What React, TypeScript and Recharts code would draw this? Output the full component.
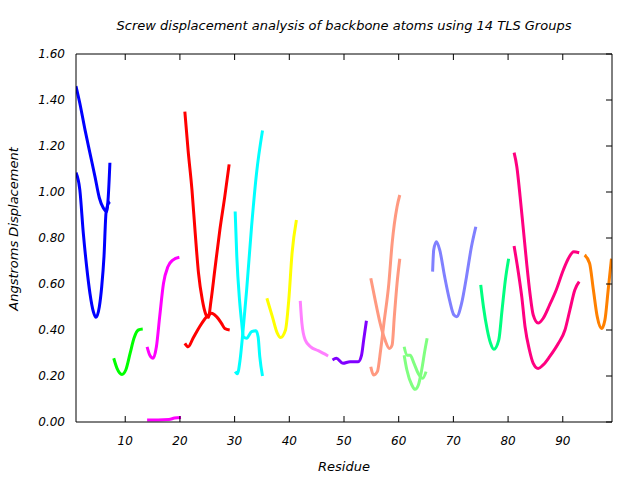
import React from 'react';
import { LineChart, Line, XAxis, YAxis } from 'recharts';

const xTicks = [10, 20, 30, 40, 50, 60, 70, 80, 90];
const yTicks = [0, 0.2, 0.4, 0.6, 0.8, 1.0, 1.2, 1.4, 1.6];

// TLS group 1 (blue)
const blueA = [
  { x: 1, y: 1.46 }, { x: 1.7, y: 1.386 }, { x: 2.65, y: 1.27 }, { x: 3.56, y: 1.168 },
  { x: 4.47, y: 1.067 }, { x: 5.26, y: 0.975 }, { x: 6.0, y: 0.93 }, { x: 6.6, y: 0.915 },
  { x: 6.9, y: 0.98 }, { x: 7.2, y: 1.127 },
];
const blueB = [
  { x: 1, y: 1.084 }, { x: 1.7, y: 1.009 }, { x: 2.34, y: 0.82 }, { x: 2.95, y: 0.675 },
  { x: 3.56, y: 0.558 }, { x: 4.17, y: 0.48 }, { x: 4.66, y: 0.455 }, { x: 5.26, y: 0.5 },
  { x: 5.7, y: 0.588 }, { x: 6.12, y: 0.72 }, { x: 6.48, y: 0.907 }, { x: 6.8, y: 0.945 },
  { x: 7.2, y: 0.958 },
];
// group 2 (green)
const greenA = [
  { x: 7.9, y: 0.277 }, { x: 8.5, y: 0.233 }, { x: 9.4, y: 0.207 }, { x: 10.1, y: 0.226 },
  { x: 10.9, y: 0.299 }, { x: 11.6, y: 0.364 }, { x: 12.4, y: 0.4 }, { x: 13.2, y: 0.404 },
];
// group 3 (magenta)
const magentaA = [
  { x: 14.0, y: 0.327 }, { x: 14.5, y: 0.29 }, { x: 15.1, y: 0.277 }, { x: 15.7, y: 0.327 },
  { x: 16.3, y: 0.458 }, { x: 17.0, y: 0.603 }, { x: 17.8, y: 0.675 }, { x: 18.7, y: 0.704 },
  { x: 19.9, y: 0.716 },
];
const magentaB = [
  { x: 14.0, y: 0.009 }, { x: 16.0, y: 0.009 }, { x: 18.0, y: 0.011 }, { x: 19.0, y: 0.017 },
  { x: 20.2, y: 0.02 },
];
// group 4 (red)
const redA = [
  { x: 20.9, y: 1.349 }, { x: 21.5, y: 1.18 }, { x: 22.2, y: 1.01 }, { x: 22.8, y: 0.82 },
  { x: 23.4, y: 0.647 }, { x: 24.1, y: 0.53 }, { x: 24.7, y: 0.47 }, { x: 25.2, y: 0.455 },
  { x: 25.7, y: 0.53 }, { x: 26.4, y: 0.665 }, { x: 27.3, y: 0.835 }, { x: 28.2, y: 0.98 },
  { x: 29.0, y: 1.12 },
];
const redB = [
  { x: 20.9, y: 0.342 }, { x: 21.5, y: 0.327 }, { x: 22.4, y: 0.364 }, { x: 23.6, y: 0.414 },
  { x: 24.9, y: 0.458 }, { x: 25.8, y: 0.473 }, { x: 26.7, y: 0.458 }, { x: 27.6, y: 0.429 },
  { x: 28.2, y: 0.407 }, { x: 29.1, y: 0.4 },
];
// group 5 (cyan)
const cyanA = [
  { x: 30.1, y: 0.915 }, { x: 30.4, y: 0.72 }, { x: 30.9, y: 0.53 }, { x: 31.3, y: 0.43 },
  { x: 31.6, y: 0.37 }, { x: 32.2, y: 0.364 }, { x: 33.1, y: 0.393 }, { x: 33.9, y: 0.397 },
  { x: 34.3, y: 0.37 }, { x: 34.6, y: 0.284 }, { x: 35.1, y: 0.2 },
];
const cyanB = [
  { x: 30.1, y: 0.219 }, { x: 30.5, y: 0.21 }, { x: 31.0, y: 0.27 }, { x: 31.5, y: 0.386 },
  { x: 32.2, y: 0.574 }, { x: 33.1, y: 0.849 }, { x: 34.0, y: 1.08 }, { x: 35.1, y: 1.267 },
];
// group 6 (yellow)
const yellowA = [
  { x: 35.9, y: 0.538 }, { x: 36.9, y: 0.458 }, { x: 37.8, y: 0.386 }, { x: 38.4, y: 0.367 },
  { x: 39.3, y: 0.4 }, { x: 39.9, y: 0.53 }, { x: 40.5, y: 0.733 }, { x: 41.3, y: 0.878 },
];
// group 7 (light magenta)
const pinkA = [
  { x: 42.0, y: 0.527 }, { x: 42.3, y: 0.43 }, { x: 42.9, y: 0.357 }, { x: 43.9, y: 0.327 },
  { x: 45.3, y: 0.31 }, { x: 47.1, y: 0.287 },
];
// group 8 (purple)
const purpleA = [
  { x: 47.9, y: 0.27 }, { x: 48.6, y: 0.277 }, { x: 49.8, y: 0.255 }, { x: 51.1, y: 0.262 },
  { x: 52.6, y: 0.262 }, { x: 53.2, y: 0.29 }, { x: 53.6, y: 0.357 }, { x: 54.1, y: 0.44 },
];
// group 9 (salmon)
const salmonA = [
  { x: 54.9, y: 0.625 }, { x: 55.7, y: 0.53 }, { x: 56.6, y: 0.43 }, { x: 57.5, y: 0.357 },
  { x: 58.3, y: 0.32 }, { x: 58.8, y: 0.335 }, { x: 59.2, y: 0.458 }, { x: 59.7, y: 0.603 },
  { x: 60.2, y: 0.71 },
];
const salmonB = [
  { x: 54.9, y: 0.24 }, { x: 55.4, y: 0.204 }, { x: 56.1, y: 0.219 }, { x: 56.7, y: 0.313 },
  { x: 57.3, y: 0.43 }, { x: 58.2, y: 0.603 }, { x: 58.8, y: 0.777 }, { x: 59.7, y: 0.936 },
  { x: 60.2, y: 0.987 },
];
// group 10 (light green)
const lgreenA = [
  { x: 61.0, y: 0.327 }, { x: 61.5, y: 0.29 }, { x: 62.1, y: 0.29 }, { x: 62.8, y: 0.255 },
  { x: 63.6, y: 0.21 }, { x: 64.4, y: 0.19 }, { x: 65.0, y: 0.219 },
];
const lgreenB = [
  { x: 61.0, y: 0.29 }, { x: 61.5, y: 0.226 }, { x: 62.4, y: 0.161 }, { x: 63.0, y: 0.142 },
  { x: 63.6, y: 0.161 }, { x: 64.2, y: 0.226 }, { x: 64.8, y: 0.313 }, { x: 65.2, y: 0.364 },
];
// group 11 (lavender)
const lavenderA = [
  { x: 66.2, y: 0.654 }, { x: 66.4, y: 0.748 }, { x: 66.9, y: 0.784 }, { x: 67.5, y: 0.748 },
  { x: 68.4, y: 0.632 }, { x: 69.3, y: 0.53 }, { x: 70.1, y: 0.465 }, { x: 70.6, y: 0.458 },
  { x: 71.5, y: 0.516 }, { x: 72.4, y: 0.632 }, { x: 73.3, y: 0.762 }, { x: 74.1, y: 0.849 },
];
// group 12 (spring green)
const springA = [
  { x: 75.0, y: 0.596 }, { x: 75.5, y: 0.5 }, { x: 76.2, y: 0.4 }, { x: 76.8, y: 0.342 },
  { x: 77.4, y: 0.316 }, { x: 78.3, y: 0.357 }, { x: 78.9, y: 0.487 }, { x: 79.5, y: 0.617 },
  { x: 80.1, y: 0.71 },
];
// group 13 (deep pink)
const dpinkA = [
  { x: 81.1, y: 1.171 }, { x: 81.6, y: 1.11 }, { x: 82.2, y: 0.98 }, { x: 82.8, y: 0.835 },
  { x: 83.4, y: 0.69 }, { x: 84.0, y: 0.56 }, { x: 84.6, y: 0.465 }, { x: 85.5, y: 0.43 },
  { x: 86.4, y: 0.45 }, { x: 87.6, y: 0.509 }, { x: 88.8, y: 0.574 }, { x: 90.1, y: 0.661 },
  { x: 91.0, y: 0.71 }, { x: 92.0, y: 0.74 }, { x: 93.0, y: 0.736 },
];
const dpinkB = [
  { x: 81.1, y: 0.765 }, { x: 81.9, y: 0.647 }, { x: 82.5, y: 0.545 }, { x: 83.1, y: 0.414 },
  { x: 83.9, y: 0.313 }, { x: 84.6, y: 0.255 }, { x: 85.5, y: 0.233 }, { x: 86.4, y: 0.248 },
  { x: 87.6, y: 0.284 }, { x: 89.2, y: 0.342 }, { x: 90.4, y: 0.4 }, { x: 91.3, y: 0.487 },
  { x: 92.2, y: 0.574 }, { x: 93.0, y: 0.61 },
];
// group 14 (orange)
const orangeA = [
  { x: 94.0, y: 0.726 }, { x: 94.9, y: 0.69 }, { x: 95.6, y: 0.574 }, { x: 96.3, y: 0.458 },
  { x: 97.1, y: 0.407 }, { x: 97.7, y: 0.443 }, { x: 98.3, y: 0.574 }, { x: 98.9, y: 0.71 },
];

const series = [
  { key: 'blueA', data: blueA, color: '#0000ff' },
  { key: 'blueB', data: blueB, color: '#0000ff' },
  { key: 'greenA', data: greenA, color: '#00ff00' },
  { key: 'magentaA', data: magentaA, color: '#ff00ff' },
  { key: 'magentaB', data: magentaB, color: '#ff00ff' },
  { key: 'redA', data: redA, color: '#ff0000' },
  { key: 'redB', data: redB, color: '#ff0000' },
  { key: 'cyanA', data: cyanA, color: '#00ffff' },
  { key: 'cyanB', data: cyanB, color: '#00ffff' },
  { key: 'yellowA', data: yellowA, color: '#ffff00' },
  { key: 'pinkA', data: pinkA, color: '#ff80ff' },
  { key: 'purpleA', data: purpleA, color: '#8000ff' },
  { key: 'salmonA', data: salmonA, color: '#ff9980' },
  { key: 'salmonB', data: salmonB, color: '#ff9980' },
  { key: 'lgreenA', data: lgreenA, color: '#80ff80' },
  { key: 'lgreenB', data: lgreenB, color: '#80ff80' },
  { key: 'lavenderA', data: lavenderA, color: '#8080ff' },
  { key: 'springA', data: springA, color: '#00ff80' },
  { key: 'dpinkA', data: dpinkA, color: '#ff0080' },
  { key: 'dpinkB', data: dpinkB, color: '#ff0080' },
  { key: 'orangeA', data: orangeA, color: '#ff8000' },
];

const FONT = '"DejaVu Sans", sans-serif';
const TICK = 6;
const BOTTOM_MARGIN = 14;
const LEFT_MARGIN = 11;

const BottomTick = (props: any) => {
  const { x, y, payload } = props;
  const axisY = y - BOTTOM_MARGIN;
  return (
    <g>
      <line x1={x} x2={x} y1={axisY} y2={axisY - TICK} stroke="#000" strokeWidth={1} />
      <text x={x} y={y} dy="0.71em" textAnchor="middle" fontFamily={FONT} fontStyle="italic" fontSize={12} fill="#000">
        {payload.value}
      </text>
    </g>
  );
};

const TopTick = (props: any) => {
  const { x, y } = props;
  return <line x1={x} x2={x} y1={y} y2={y + TICK} stroke="#000" strokeWidth={1} />;
};

const LeftTick = (props: any) => {
  const { x, y, payload } = props;
  return (
    <text x={x} y={y} dy="0.35em" textAnchor="end" fontFamily={FONT} fontStyle="italic" fontSize={12} fill="#000">
      {Number(payload.value).toFixed(2)}
    </text>
  );
};

const RightTick = (props: any) => {
  const { x, y } = props;
  return <line x1={x} x2={x - TICK} y1={y} y2={y} stroke="#000" strokeWidth={1} />;
};

export default function App() {
  return (
    <div style={{ position: 'absolute', left: 0, top: 0, width: 640, height: 480, background: '#fff' }}>
      <LineChart width={640} height={480} margin={{ top: 53, right: 27, bottom: 0, left: 0 }}>
        <XAxis
          xAxisId="b"
          dataKey="x"
          type="number"
          domain={[1, 99]}
          ticks={xTicks}
          allowDataOverflow
          height={58}
          tickSize={0}
          tickMargin={BOTTOM_MARGIN}
          tickLine={false}
          axisLine={{ stroke: '#000', strokeWidth: 1 }}
          tick={<BottomTick />}
          interval={0}
        />
        <XAxis
          xAxisId="t"
          orientation="top"
          dataKey="x"
          type="number"
          domain={[1, 99]}
          ticks={xTicks}
          allowDataOverflow
          height={1}
          tickSize={0}
          tickMargin={0}
          tickLine={false}
          axisLine={{ stroke: '#000', strokeWidth: 1 }}
          tick={<TopTick />}
          interval={0}
        />
        <YAxis
          yAxisId="l"
          type="number"
          domain={[0, 1.6]}
          ticks={yTicks}
          allowDataOverflow
          width={76}
          tickSize={0}
          tickMargin={LEFT_MARGIN}
          tickLine={false}
          axisLine={{ stroke: '#000', strokeWidth: 1 }}
          tick={<LeftTick />}
          interval={0}
        />
        <YAxis
          yAxisId="r"
          orientation="right"
          type="number"
          domain={[0, 1.6]}
          ticks={yTicks}
          allowDataOverflow
          width={1}
          tickSize={0}
          tickMargin={0}
          tickLine={false}
          axisLine={{ stroke: '#000', strokeWidth: 1 }}
          tick={<RightTick />}
          interval={0}
        />
        {series.map((s) => (
          <Line
            key={s.key}
            xAxisId="b"
            yAxisId="l"
            data={s.data}
            dataKey="y"
            type="monotone"
            stroke={s.color}
            strokeWidth={3}
            dot={false}
            activeDot={false}
            isAnimationActive={false}
          />
        ))}
      </LineChart>
      <div
        style={{
          position: 'absolute', left: 0, width: 688, top: 17, textAlign: 'center',
          fontFamily: FONT, fontStyle: 'italic', fontSize: 13, lineHeight: '18px', color: '#000',
        }}
      >
        Screw displacement analysis of backbone atoms using 14 TLS Groups
      </div>
      <div
        style={{
          position: 'absolute', left: 0, width: 688, top: 458, textAlign: 'center',
          fontFamily: FONT, fontStyle: 'italic', fontSize: 13, lineHeight: '18px', color: '#000',
        }}
      >
        Residue
      </div>
      <div
        style={{
          position: 'absolute', left: 14, top: 229, width: 0, height: 0,
        }}
      >
        <div
          style={{
            position: 'absolute', left: -150, top: -9, width: 300, textAlign: 'center',
            transform: 'rotate(-90deg)', fontFamily: FONT, fontStyle: 'italic', fontSize: 13,
            lineHeight: '18px', color: '#000', whiteSpace: 'nowrap',
          }}
        >
          Angstroms Displacement
        </div>
      </div>
    </div>
  );
}
